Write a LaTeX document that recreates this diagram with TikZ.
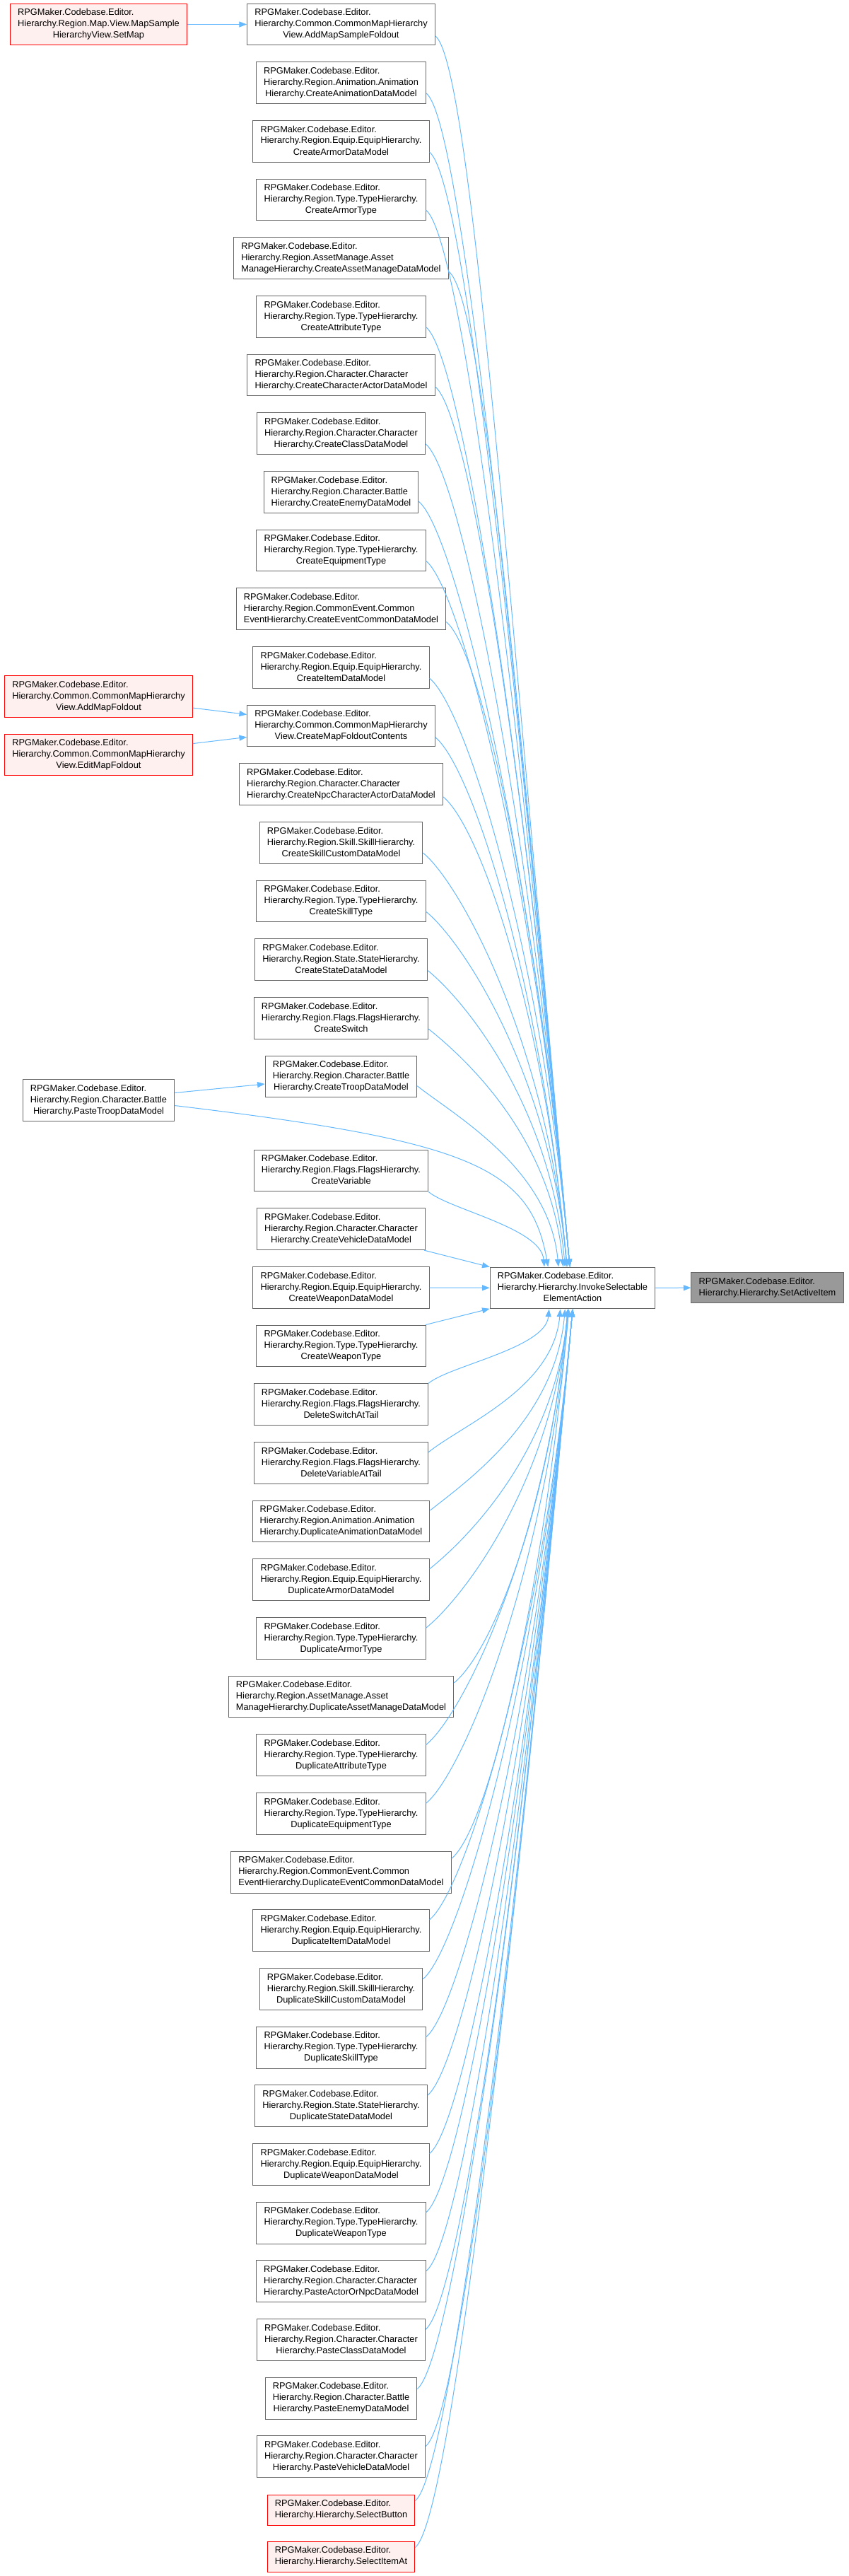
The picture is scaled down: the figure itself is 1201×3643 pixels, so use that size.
\documentclass[tikz,border=0pt]{standalone}
\usepackage{fontspec}
\setmainfont{Liberation Sans}
\usetikzlibrary{arrows.meta}

\definecolor{edgeblue}{HTML}{63B8FF}
\definecolor{boxgray}{HTML}{666666}
\definecolor{rootfill}{HTML}{999999}
\definecolor{redfill}{HTML}{FFF0F0}
\definecolor{redline}{HTML}{FF0000}

% doxygen style labels: first lines left, last line centred
\newcommand{\lbl}[3]{\begin{tabular}{@{}l@{}}#1\\#2\\\multicolumn{1}{@{}c@{}}{#3}\end{tabular}}
\newcommand{\lbltwo}[2]{\begin{tabular}{@{}l@{}}#1\\\multicolumn{1}{@{}c@{}}{#2}\end{tabular}}

\begin{document}
\begin{tikzpicture}[x=0.75pt, y=-0.75pt,
        fn/.style={rectangle, draw=boxgray, fill=white, line width=0.75pt, font=\fontsize{9.6}{12}\selectfont, inner xsep=8pt, inner ysep=4.1pt},
        fnred/.style={fn, draw=redline, fill=redfill},
        fnroot/.style={fn, fill=rootfill},
        callarrow/.style={draw=edgeblue, line width=0.75pt, -{Triangle[length=8pt, width=6pt]}}
    ]
        \useasboundingbox (0,0) rectangle (1201,3643);

        % Target
        \node[fn] (inv) at (810,1821.5) {\lbl{RPGMaker.Codebase.Editor.}{Hierarchy.Hierarchy.InvokeSelectable}{ElementAction}};
        \node[fnroot] (act) at (1085.5,1821) {\lbltwo{RPGMaker.Codebase.Editor.}{Hierarchy.Hierarchy.SetActiveItem}};

        % Callers of InvokeSelectableElementAction
        \node[fn] (c1) at (482.5,34.5) {\lbl{RPGMaker.Codebase.Editor.}{Hierarchy.Common.CommonMapHierarchy}{View.AddMapSampleFoldout}};
        \node[fn] (c2) at (482.5,117.2) {\lbl{RPGMaker.Codebase.Editor.}{Hierarchy.Region.Animation.Animation}{Hierarchy.CreateAnimationDataModel}};
        \node[fn] (c3) at (482.5,199.8) {\lbl{RPGMaker.Codebase.Editor.}{Hierarchy.Region.Equip.EquipHierarchy.}{CreateArmorDataModel}};
        \node[fn] (c4) at (482.5,282.5) {\lbl{RPGMaker.Codebase.Editor.}{Hierarchy.Region.Type.TypeHierarchy.}{CreateArmorType}};
        \node[fn] (c5) at (482.5,365.2) {\lbl{RPGMaker.Codebase.Editor.}{Hierarchy.Region.AssetManage.Asset}{ManageHierarchy.CreateAssetManageDataModel}};
        \node[fn] (c6) at (482.5,447.9) {\lbl{RPGMaker.Codebase.Editor.}{Hierarchy.Region.Type.TypeHierarchy.}{CreateAttributeType}};
        \node[fn] (c7) at (482.5,530.5) {\lbl{RPGMaker.Codebase.Editor.}{Hierarchy.Region.Character.Character}{Hierarchy.CreateCharacterActorDataModel}};
        \node[fn] (c8) at (482.5,613.2) {\lbl{RPGMaker.Codebase.Editor.}{Hierarchy.Region.Character.Character}{Hierarchy.CreateClassDataModel}};
        \node[fn] (c9) at (482.5,695.9) {\lbl{RPGMaker.Codebase.Editor.}{Hierarchy.Region.Character.Battle}{Hierarchy.CreateEnemyDataModel}};
        \node[fn] (c10) at (482.5,778.5) {\lbl{RPGMaker.Codebase.Editor.}{Hierarchy.Region.Type.TypeHierarchy.}{CreateEquipmentType}};
        \node[fn] (c11) at (482.5,861.2) {\lbl{RPGMaker.Codebase.Editor.}{Hierarchy.Region.CommonEvent.Common}{EventHierarchy.CreateEventCommonDataModel}};
        \node[fn] (c12) at (482.5,943.9) {\lbl{RPGMaker.Codebase.Editor.}{Hierarchy.Region.Equip.EquipHierarchy.}{CreateItemDataModel}};
        \node[fn] (c13) at (482.5,1026.5) {\lbl{RPGMaker.Codebase.Editor.}{Hierarchy.Common.CommonMapHierarchy}{View.CreateMapFoldoutContents}};
        \node[fn] (c14) at (482.5,1109.2) {\lbl{RPGMaker.Codebase.Editor.}{Hierarchy.Region.Character.Character}{Hierarchy.CreateNpcCharacterActorDataModel}};
        \node[fn] (c15) at (482.5,1191.9) {\lbl{RPGMaker.Codebase.Editor.}{Hierarchy.Region.Skill.SkillHierarchy.}{CreateSkillCustomDataModel}};
        \node[fn] (c16) at (482.5,1274.5) {\lbl{RPGMaker.Codebase.Editor.}{Hierarchy.Region.Type.TypeHierarchy.}{CreateSkillType}};
        \node[fn] (c17) at (482.5,1357.2) {\lbl{RPGMaker.Codebase.Editor.}{Hierarchy.Region.State.StateHierarchy.}{CreateStateDataModel}};
        \node[fn] (c18) at (482.5,1439.9) {\lbl{RPGMaker.Codebase.Editor.}{Hierarchy.Region.Flags.FlagsHierarchy.}{CreateSwitch}};
        \node[fn] (c19) at (482.5,1522.5) {\lbl{RPGMaker.Codebase.Editor.}{Hierarchy.Region.Character.Battle}{Hierarchy.CreateTroopDataModel}};
        \node[fn] (c20) at (482.5,1655.5) {\lbl{RPGMaker.Codebase.Editor.}{Hierarchy.Region.Flags.FlagsHierarchy.}{CreateVariable}};
        \node[fn] (c21) at (482.5,1738.2) {\lbl{RPGMaker.Codebase.Editor.}{Hierarchy.Region.Character.Character}{Hierarchy.CreateVehicleDataModel}};
        \node[fn] (c22) at (482.5,1820.8) {\lbl{RPGMaker.Codebase.Editor.}{Hierarchy.Region.Equip.EquipHierarchy.}{CreateWeaponDataModel}};
        \node[fn] (c23) at (482.5,1903.5) {\lbl{RPGMaker.Codebase.Editor.}{Hierarchy.Region.Type.TypeHierarchy.}{CreateWeaponType}};
        \node[fn] (c24) at (482.5,1986.2) {\lbl{RPGMaker.Codebase.Editor.}{Hierarchy.Region.Flags.FlagsHierarchy.}{DeleteSwitchAtTail}};
        \node[fn] (c25) at (482.5,2068.8) {\lbl{RPGMaker.Codebase.Editor.}{Hierarchy.Region.Flags.FlagsHierarchy.}{DeleteVariableAtTail}};
        \node[fn] (c26) at (482.5,2151.5) {\lbl{RPGMaker.Codebase.Editor.}{Hierarchy.Region.Animation.Animation}{Hierarchy.DuplicateAnimationDataModel}};
        \node[fn] (c27) at (482.5,2234.2) {\lbl{RPGMaker.Codebase.Editor.}{Hierarchy.Region.Equip.EquipHierarchy.}{DuplicateArmorDataModel}};
        \node[fn] (c28) at (482.5,2316.9) {\lbl{RPGMaker.Codebase.Editor.}{Hierarchy.Region.Type.TypeHierarchy.}{DuplicateArmorType}};
        \node[fn] (c29) at (482.5,2399.5) {\lbl{RPGMaker.Codebase.Editor.}{Hierarchy.Region.AssetManage.Asset}{ManageHierarchy.DuplicateAssetManageDataModel}};
        \node[fn] (c30) at (482.5,2482.2) {\lbl{RPGMaker.Codebase.Editor.}{Hierarchy.Region.Type.TypeHierarchy.}{DuplicateAttributeType}};
        \node[fn] (c31) at (482.5,2564.9) {\lbl{RPGMaker.Codebase.Editor.}{Hierarchy.Region.Type.TypeHierarchy.}{DuplicateEquipmentType}};
        \node[fn] (c32) at (482.5,2647.5) {\lbl{RPGMaker.Codebase.Editor.}{Hierarchy.Region.CommonEvent.Common}{EventHierarchy.DuplicateEventCommonDataModel}};
        \node[fn] (c33) at (482.5,2730.2) {\lbl{RPGMaker.Codebase.Editor.}{Hierarchy.Region.Equip.EquipHierarchy.}{DuplicateItemDataModel}};
        \node[fn] (c34) at (482.5,2812.9) {\lbl{RPGMaker.Codebase.Editor.}{Hierarchy.Region.Skill.SkillHierarchy.}{DuplicateSkillCustomDataModel}};
        \node[fn] (c35) at (482.5,2895.5) {\lbl{RPGMaker.Codebase.Editor.}{Hierarchy.Region.Type.TypeHierarchy.}{DuplicateSkillType}};
        \node[fn] (c36) at (482.5,2978.2) {\lbl{RPGMaker.Codebase.Editor.}{Hierarchy.Region.State.StateHierarchy.}{DuplicateStateDataModel}};
        \node[fn] (c37) at (482.5,3060.9) {\lbl{RPGMaker.Codebase.Editor.}{Hierarchy.Region.Equip.EquipHierarchy.}{DuplicateWeaponDataModel}};
        \node[fn] (c38) at (482.5,3143.6) {\lbl{RPGMaker.Codebase.Editor.}{Hierarchy.Region.Type.TypeHierarchy.}{DuplicateWeaponType}};
        \node[fn] (c39) at (482.5,3226.2) {\lbl{RPGMaker.Codebase.Editor.}{Hierarchy.Region.Character.Character}{Hierarchy.PasteActorOrNpcDataModel}};
        \node[fn] (c40) at (482.5,3308.9) {\lbl{RPGMaker.Codebase.Editor.}{Hierarchy.Region.Character.Character}{Hierarchy.PasteClassDataModel}};
        \node[fn] (c41) at (482.5,3391.6) {\lbl{RPGMaker.Codebase.Editor.}{Hierarchy.Region.Character.Battle}{Hierarchy.PasteEnemyDataModel}};
        \node[fn] (c42) at (482.5,3474.3) {\lbl{RPGMaker.Codebase.Editor.}{Hierarchy.Region.Character.Character}{Hierarchy.PasteVehicleDataModel}};
        \node[fnred] (c43) at (482.5,3549.5) {\lbltwo{RPGMaker.Codebase.Editor.}{Hierarchy.Hierarchy.SelectButton}};
        \node[fnred] (c44) at (482.5,3615.5) {\lbltwo{RPGMaker.Codebase.Editor.}{Hierarchy.Hierarchy.SelectItemAt}};

        % Second level callers
        \node[fnred] (sm) at (139.5,34.5) {\lbl{RPGMaker.Codebase.Editor.}{Hierarchy.Region.Map.View.MapSample}{HierarchyView.SetMap}};
        \node[fnred] (af) at (139.5,985) {\lbl{RPGMaker.Codebase.Editor.}{Hierarchy.Common.CommonMapHierarchy}{View.AddMapFoldout}};
        \node[fnred] (ef) at (139.5,1067.5) {\lbl{RPGMaker.Codebase.Editor.}{Hierarchy.Common.CommonMapHierarchy}{View.EditMapFoldout}};
        \node[fn] (pt) at (139.5,1556) {\lbl{RPGMaker.Codebase.Editor.}{Hierarchy.Region.Character.Battle}{Hierarchy.PasteTroopDataModel}};

        % Straight calls
        \draw[callarrow] (inv) -- (act);
        \draw[callarrow] (sm) -- (c1);
        \draw[callarrow] (af) -- (c13);
        \draw[callarrow] (ef) -- (c13);
        \draw[callarrow] (pt) -- (c19);
        \draw[callarrow] (c21) -- (inv);
        \draw[callarrow] (c22) -- (inv);
        \draw[callarrow] (c23) -- (inv);

        % Calls from above
        \draw[callarrow] (c1.-7) .. controls +(50,40) and +(-87,-958) .. ([xshift=-3pt]inv.north);
        \draw[callarrow] (c2.-7) .. controls +(50,40) and +(-83,-913) .. ([xshift=-3pt]inv.north);
        \draw[callarrow] (c3.-7) .. controls +(50,40) and +(-79,-867) .. ([xshift=-3pt]inv.north);
        \draw[callarrow] (c4.-7) .. controls +(50,40) and +(-75,-822) .. ([xshift=-3pt]inv.north);
        \draw[callarrow] (c5.-7) .. controls +(50,40) and +(-71,-776) .. ([xshift=-3pt]inv.north);
        \draw[callarrow] (c6.-7) .. controls +(50,40) and +(-66,-731) .. ([xshift=-3pt]inv.north);
        \draw[callarrow] (c7.-7) .. controls +(50,40) and +(-62,-686) .. ([xshift=-3pt]inv.north);
        \draw[callarrow] (c8.-7) .. controls +(50,40) and +(-58,-640) .. ([xshift=-3pt]inv.north);
        \draw[callarrow] (c9.-7) .. controls +(50,40) and +(-54,-595) .. ([xshift=-3pt]inv.north);
        \draw[callarrow] (c10.-7) .. controls +(50,40) and +(-50,-549) .. ([xshift=-3pt]inv.north);
        \draw[callarrow] (c11.-7) .. controls +(50,40) and +(-46,-504) .. ([xshift=-3pt]inv.north);
        \draw[callarrow] (c12.-7) .. controls +(50,40) and +(-42,-458) .. ([xshift=-3pt]inv.north);
        \draw[callarrow] (c13.-7) .. controls +(50,40) and +(-38,-413) .. ([xshift=-6pt]inv.north);
        \draw[callarrow] (c14.-7) .. controls +(50,40) and +(-33,-367) .. ([xshift=-6pt]inv.north);
        \draw[callarrow] (c15.-7) .. controls +(50,40) and +(-29,-322) .. ([xshift=-6pt]inv.north);
        \draw[callarrow] (c16.-7) .. controls +(50,40) and +(-25,-276) .. ([xshift=-6pt]inv.north);
        \draw[callarrow] (c17.-7) .. controls +(50,40) and +(-21,-231) .. ([xshift=-8pt]inv.north);
        \draw[callarrow] (c18.-7) .. controls +(50,40) and +(-17,-185) .. ([xshift=-10pt]inv.north);
        \draw[callarrow] (c19.-7) .. controls +(50,40) and +(-13,-140) .. ([xshift=-15pt]inv.north);
        \draw[callarrow] (pt.-4) .. controls +(420,50) and +(-25,-140) .. ([xshift=-26pt]inv.north);
        \draw[callarrow] (c20.south east) .. controls +(30,25) and +(-5,-55) .. ([xshift=-30pt]inv.north);

        % Calls from below
        \draw[callarrow] (c24.north east) .. controls +(30,-25) and +(-5,55) .. ([xshift=-25pt]inv.south);
        \draw[callarrow] (c25.7) .. controls +(50,-40) and +(-10,112) .. ([xshift=-13pt]inv.south);
        \draw[callarrow] (c26.7) .. controls +(50,-40) and +(-14,157) .. ([xshift=-8pt]inv.south);
        \draw[callarrow] (c27.7) .. controls +(50,-40) and +(-18,203) .. ([xshift=-5pt]inv.south);
        \draw[callarrow] (c28.7) .. controls +(50,-40) and +(-23,248) .. ([xshift=-5pt]inv.south);
        \draw[callarrow] (c29.7) .. controls +(50,-40) and +(-27,293) .. ([xshift=-5pt]inv.south);
        \draw[callarrow] (c30.7) .. controls +(50,-40) and +(-31,339) .. ([xshift=-5pt]inv.south);
        \draw[callarrow] (c31.7) .. controls +(50,-40) and +(-35,384) .. ([xshift=-4pt]inv.south);
        \draw[callarrow] (c32.7) .. controls +(50,-40) and +(-39,430) .. ([xshift=-4pt]inv.south);
        \draw[callarrow] (c33.7) .. controls +(50,-40) and +(-43,475) .. (inv.south);
        \draw[callarrow] (c34.7) .. controls +(50,-40) and +(-47,521) .. (inv.south);
        \draw[callarrow] (c35.7) .. controls +(50,-40) and +(-51,566) .. (inv.south);
        \draw[callarrow] (c36.7) .. controls +(50,-40) and +(-56,612) .. (inv.south);
        \draw[callarrow] (c37.7) .. controls +(50,-40) and +(-60,657) .. (inv.south);
        \draw[callarrow] (c38.7) .. controls +(50,-40) and +(-64,703) .. (inv.south);
        \draw[callarrow] (c39.7) .. controls +(50,-40) and +(-68,748) .. (inv.south);
        \draw[callarrow] (c40.7) .. controls +(50,-40) and +(-72,794) .. (inv.south);
        \draw[callarrow] (c41.7) .. controls +(50,-40) and +(-76,839) .. (inv.south);
        \draw[callarrow] (c42.7) .. controls +(50,-40) and +(-80,885) .. (inv.south);
        \draw[callarrow] (c43.7) .. controls +(50,-40) and +(-84,927) .. (inv.south);
        \draw[callarrow] (c44.7) .. controls +(50,-40) and +(-88,963) .. (inv.south);
    \end{tikzpicture}
\end{document}
